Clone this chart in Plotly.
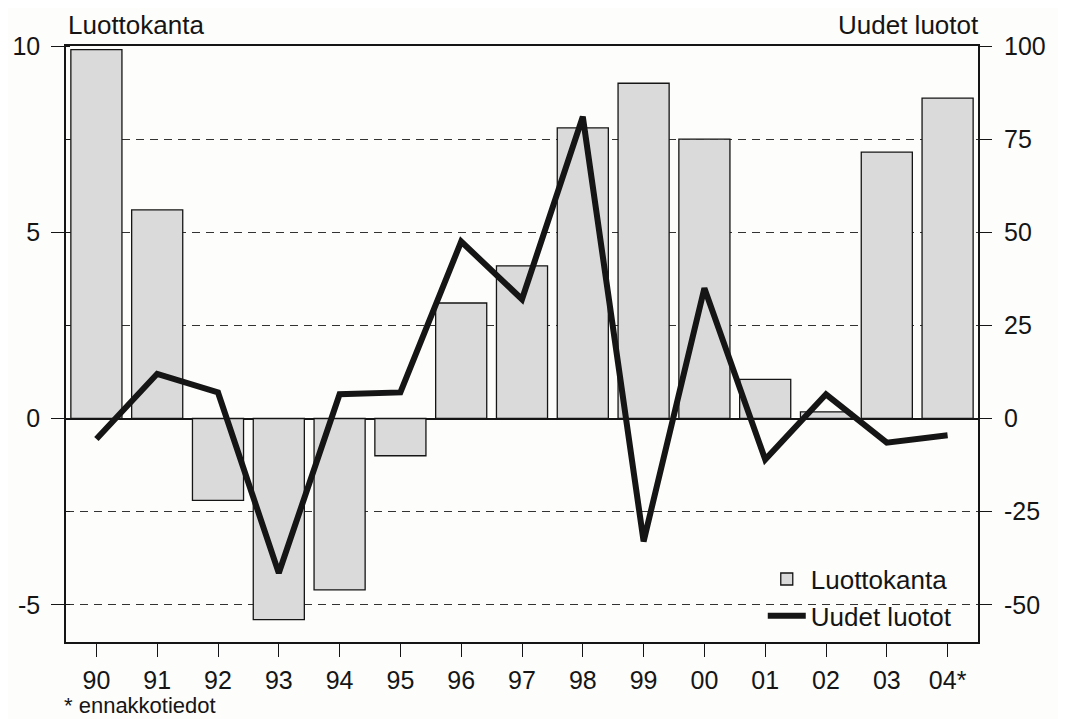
import plotly.graph_objects as go

years = ["90", "91", "92", "93", "94", "95", "96", "97", "98", "99", "00", "01", "02", "03", "04*"]
luottokanta = [9.9, 5.6, -2.2, -5.4, -4.6, -1.0, 3.1, 4.1, 7.8, 9.0, 7.5, 1.05, 0.18, 7.15, 8.6]
uudet_luotot = [-5.5, 12, 7, -41.5, 6.5, 7, 47.5, 32, 81, -33, 35, -11, 6.5, -6.5, -4.5]

left_ticks = [-5, 0, 5, 10]
left_labels = ["-5", "0", "5", "10"]
right_ticks = [-50, -25, 0, 25, 50, 75, 100]
right_labels = ["-50", "-25", "0", "25", "50", "75", "100"]

FONT = "Liberation Sans, Arial, Helvetica, sans-serif"
INK = "#151515"

fig = go.Figure()
fig.add_trace(go.Bar(
    x=years, y=luottokanta, name="Luottokanta",
    marker=dict(color="#dadada", line=dict(color=INK, width=1.3)),
    width=0.84, yaxis="y",
))
fig.add_trace(go.Scatter(
    x=years, y=uudet_luotot, name="Uudet luotot", mode="lines",
    line=dict(color=INK, width=6), yaxis="y2",
))

fig.update_layout(
    width=1066, height=719,
    margin=dict(l=58, r=96, t=38, b=85, autoexpand=False),
    paper_bgcolor="#fdfdfb", plot_bgcolor="#fdfdfb",
    font=dict(family=FONT, size=25, color=INK),
    showlegend=True,
    legend=dict(x=0.764, y=0.145, xanchor="left", yanchor="top",
                bgcolor="rgba(0,0,0,0)", font=dict(size=26, color=INK),
                tracegroupgap=2, itemwidth=38),
    xaxis=dict(type="category", range=[-0.5, 14.5], showline=True, linecolor=INK, linewidth=1.5,
               mirror=True, ticks="outside", ticklen=13, tickcolor=INK, tickwidth=1,
               showgrid=False, zeroline=False, ticklabelstandoff=2, automargin=False),
    yaxis=dict(range=[-6, 10], tickmode="array", tickvals=left_ticks, ticktext=left_labels,
               showline=True, linecolor=INK, linewidth=1.5,
               mirror=True, ticks="outside", ticklen=13, tickcolor=INK, tickwidth=1,
               showgrid=True, gridcolor="#333333", gridwidth=1, griddash="8px,6px",
               zeroline=True, zerolinecolor=INK, zerolinewidth=1.5,
               minor=dict(dtick=2.5, tick0=0, showgrid=True, gridcolor="#333333",
                          gridwidth=1, griddash="8px,6px", ticks="inside", ticklen=4,
                          tickcolor=INK),
               ticklabelstandoff=6, automargin=False),
    yaxis2=dict(range=[-60, 100], tickmode="array", tickvals=right_ticks, ticktext=right_labels,
                overlaying="y", side="right",
                showline=False, ticks="outside", ticklen=13, tickcolor=INK, tickwidth=1,
                showgrid=False, zeroline=False, ticklabelstandoff=7, automargin=False),
    annotations=[
        dict(text="Luottokanta", xref="paper", yref="paper", x=0.0, y=1.035,
             xanchor="left", yanchor="middle", showarrow=False, font=dict(size=26)),
        dict(text="Uudet luotot", xref="paper", yref="paper", x=1.003, y=1.035,
             xanchor="right", yanchor="middle", showarrow=False, font=dict(size=26)),
        dict(text="* ennakkotiedot", xref="paper", yref="paper", x=-0.004, y=-0.107,
             xanchor="left", yanchor="middle", showarrow=False, font=dict(size=22)),
    ],
)

fig.write_html("out.html")
